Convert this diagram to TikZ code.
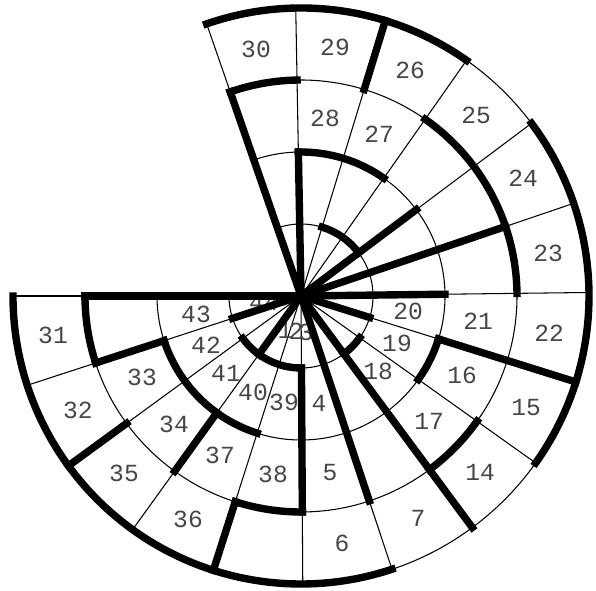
\documentclass[tikz,border=0pt]{standalone}
\usepackage{fontspec}
\newfontfamily\cellfont{Liberation Mono}
\usepackage{xcolor}
\definecolor{ink}{RGB}{70,70,70}
\begin{document}
\begin{tikzpicture}[
  grid line/.style={black,line width=0.3pt},
  wall/.style={black,line width=2.1pt,line cap=rect},
  cellnum/.style={ink,inner sep=0pt,font=\cellfont\fontsize{7}{8}\selectfont},
]
\def\dt{18.07}
\def\rw{0.72}
\useasboundingbox (0,0) rectangle (5.96,5.90);
\coordinate (ctr) at (3.01,2.94);
% ---- thin grid ----
\foreach \k in {0,...,16}
  \draw[grid line,shift={(ctr)}] (0,0) -- ({180+\dt*\k}:{4*\rw});
\foreach \r in {1,2,3,4}
  \draw[grid line,shift={(ctr)}] (180:{\r*\rw}) arc[start angle=180,end angle={180+\dt*16},radius={\r*\rw}];
% ---- cell numbers ----
\foreach \px/\py/\t in {
  256/49/30,335/47/29,325/118/28,379/134/27,410/70/26,476/115/25,523/178/24,548/253/23,
  549/333/22,478/321/21,408/311/20,397/343/19,378/371/18,429/421/17,462/375/16,526/408/15,
  480/472/14,418/518/7,342/543/6,330/473/5,319/403/4,273/474/38,284/402/39,253/392/40,
  226/373/41,206/345/42,196/314/43,264/302/44,142/377/33,174/424/34,220/455/37,188/519/36,
  124/473/35,78/410/32,53/335/31,285/330/1,296/331/2,306/332/3}
  \node[cellnum] (n\t) at (\px/100,5.9-\py/100) {\t};
% ---- walls along the rings ----
\foreach \a/\b/\r in {
  0/6/4,8/12/4,13/16/4,
  0/1/3,4/5/3,7/8/3,10/13/3,15/16/3,
  1/4/2,8/9/2,13/15/2,
  2/5/1,7/8/1,12/14/1}
  \draw[wall,shift={(ctr)}] ({180+\dt*\a}:{\r*\rw}) arc[start angle={180+\dt*\a},end angle={180+\dt*\b},radius={\r*\rw}];
% ---- walls along the spokes ----
\foreach \k/\ri/\ro in {
  0/0/3,1/0/1,1/2/3,2/3/4,3/0/1,3/2/3,4/3/4,5/1/3,6/0/3,7/0/4,
  9/0/1,9/2/4,10/0/2,11/0/3,12/0/2,14/3/4,15/0/2,16/0/3}
  \draw[wall,shift={(ctr)}] ({180+\dt*\k}:{\ri*\rw}) -- ({180+\dt*\k}:{\ro*\rw});
\end{tikzpicture}
\end{document}
